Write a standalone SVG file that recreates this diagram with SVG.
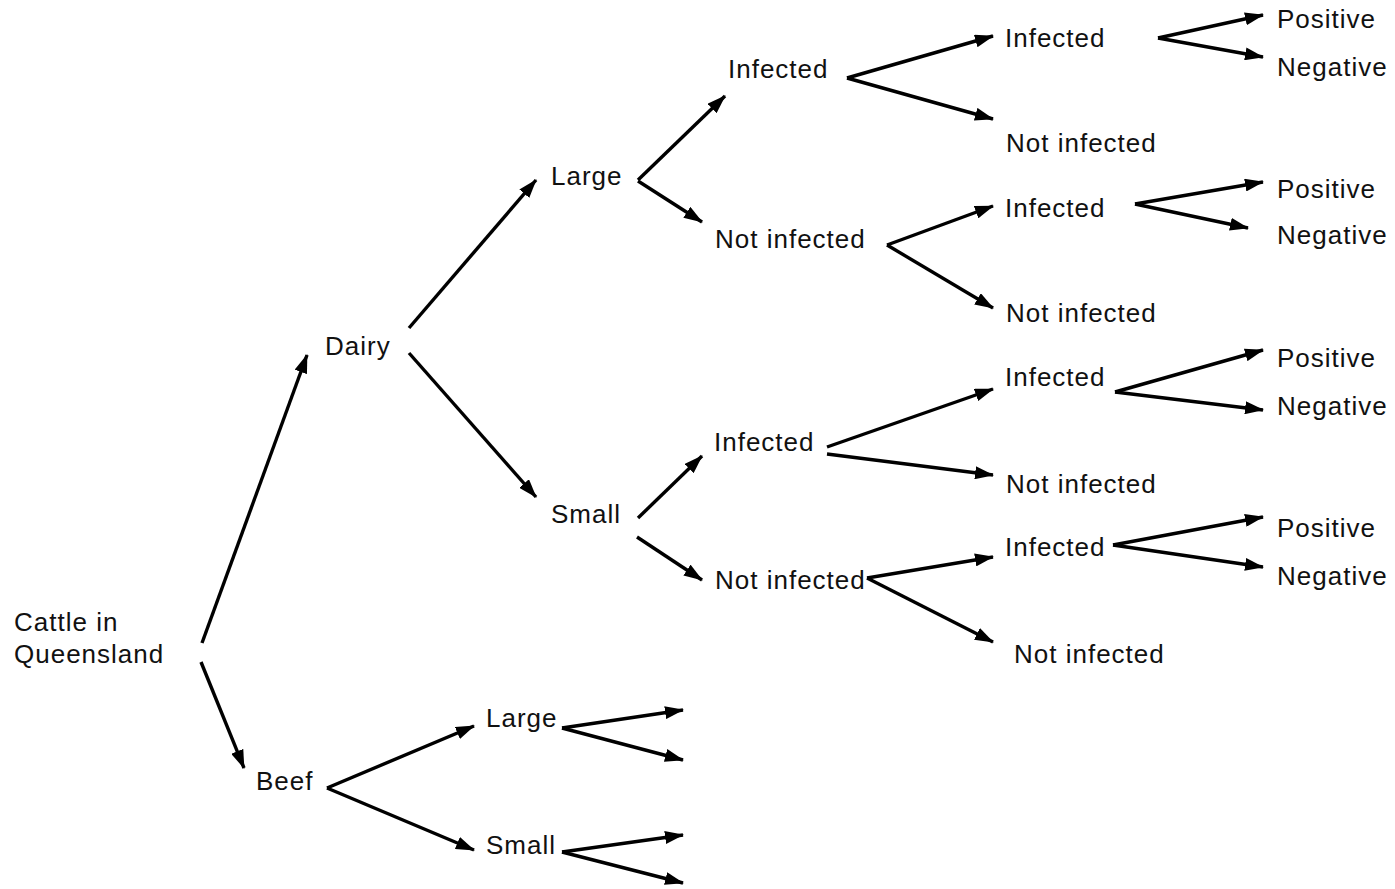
<svg xmlns="http://www.w3.org/2000/svg" width="1395" height="889" viewBox="0 0 1395 889">
<style>
text{font-family:"Liberation Sans",Arial,sans-serif;font-size:26px;letter-spacing:1px;fill:#111}
.c line{stroke:#000;stroke-width:3.4;marker-end:url(#ah)}
</style>
<defs>
<marker id="ah" markerUnits="userSpaceOnUse" markerWidth="19" markerHeight="13" refX="18" refY="6.5" orient="auto">
<path d="M0,0 L19,6.5 L0,13 z" fill="#000"/>
</marker>
</defs>
<rect width="1395" height="889" fill="#fff"/>
<g class="c" id="connectors">
<line x1="202" y1="643" x2="307" y2="355"/>
<line x1="201" y1="662" x2="244" y2="768"/>
<line x1="409" y1="328" x2="536" y2="180"/>
<line x1="409" y1="353" x2="536" y2="497"/>
<line x1="638" y1="180" x2="725" y2="96"/>
<line x1="638" y1="181" x2="702" y2="222"/>
<line x1="847" y1="78" x2="993" y2="36"/>
<line x1="847" y1="78" x2="993" y2="119"/>
<line x1="887" y1="245" x2="993" y2="206"/>
<line x1="887" y1="245" x2="993" y2="308"/>
<line x1="638" y1="518" x2="702" y2="456"/>
<line x1="637" y1="537" x2="702" y2="580"/>
<line x1="827" y1="447" x2="993" y2="389"/>
<line x1="827" y1="454" x2="993" y2="475"/>
<line x1="867" y1="578" x2="993" y2="557"/>
<line x1="867" y1="578" x2="993" y2="642"/>
<line x1="1158" y1="38" x2="1263" y2="15"/>
<line x1="1158" y1="38" x2="1263" y2="57"/>
<line x1="1135" y1="204" x2="1263" y2="182"/>
<line x1="1135" y1="204" x2="1248" y2="228"/>
<line x1="1115" y1="392" x2="1263" y2="350"/>
<line x1="1115" y1="392" x2="1263" y2="410"/>
<line x1="1113" y1="545" x2="1263" y2="517"/>
<line x1="1113" y1="545" x2="1263" y2="567"/>
<line x1="327" y1="788" x2="474" y2="726"/>
<line x1="327" y1="788" x2="474" y2="850"/>
<line x1="562" y1="728" x2="683" y2="710"/>
<line x1="562" y1="728" x2="683" y2="760"/>
<line x1="562" y1="852" x2="683" y2="835"/>
<line x1="562" y1="852" x2="683" y2="883"/>
</g>
<g id="n-root"><text x="14" y="631">Cattle in</text><text x="14" y="663">Queensland</text></g>
<g id="n-dairy"><text x="325" y="355">Dairy</text></g>
<g id="n-beef"><text x="256" y="790">Beef</text></g>
<g id="n-dairy-large"><text x="551" y="185">Large</text></g>
<g id="n-dairy-small"><text x="551" y="523">Small</text></g>
<g id="n-beef-large"><text x="486" y="727">Large</text></g>
<g id="n-beef-small"><text x="486" y="854">Small</text></g>
<g id="n-dl-inf"><text x="728" y="78">Infected</text></g>
<g id="n-dl-not"><text x="715" y="248">Not infected</text></g>
<g id="n-ds-inf"><text x="714" y="451">Infected</text></g>
<g id="n-ds-not"><text x="715" y="589">Not infected</text></g>
<g id="n-a-inf"><text x="1005" y="47">Infected</text></g>
<g id="n-a-not"><text x="1006" y="152">Not infected</text></g>
<g id="n-b-inf"><text x="1005" y="217">Infected</text></g>
<g id="n-b-not"><text x="1006" y="322">Not infected</text></g>
<g id="n-c-inf"><text x="1005" y="386">Infected</text></g>
<g id="n-c-not"><text x="1006" y="493">Not infected</text></g>
<g id="n-d-inf"><text x="1005" y="556">Infected</text></g>
<g id="n-d-not"><text x="1014" y="663">Not infected</text></g>
<g id="n-a-pos"><text x="1277" y="28">Positive</text></g>
<g id="n-a-neg"><text x="1277" y="76">Negative</text></g>
<g id="n-b-pos"><text x="1277" y="198">Positive</text></g>
<g id="n-b-neg"><text x="1277" y="244">Negative</text></g>
<g id="n-c-pos"><text x="1277" y="367">Positive</text></g>
<g id="n-c-neg"><text x="1277" y="415">Negative</text></g>
<g id="n-d-pos"><text x="1277" y="537">Positive</text></g>
<g id="n-d-neg"><text x="1277" y="585">Negative</text></g>
</svg>
